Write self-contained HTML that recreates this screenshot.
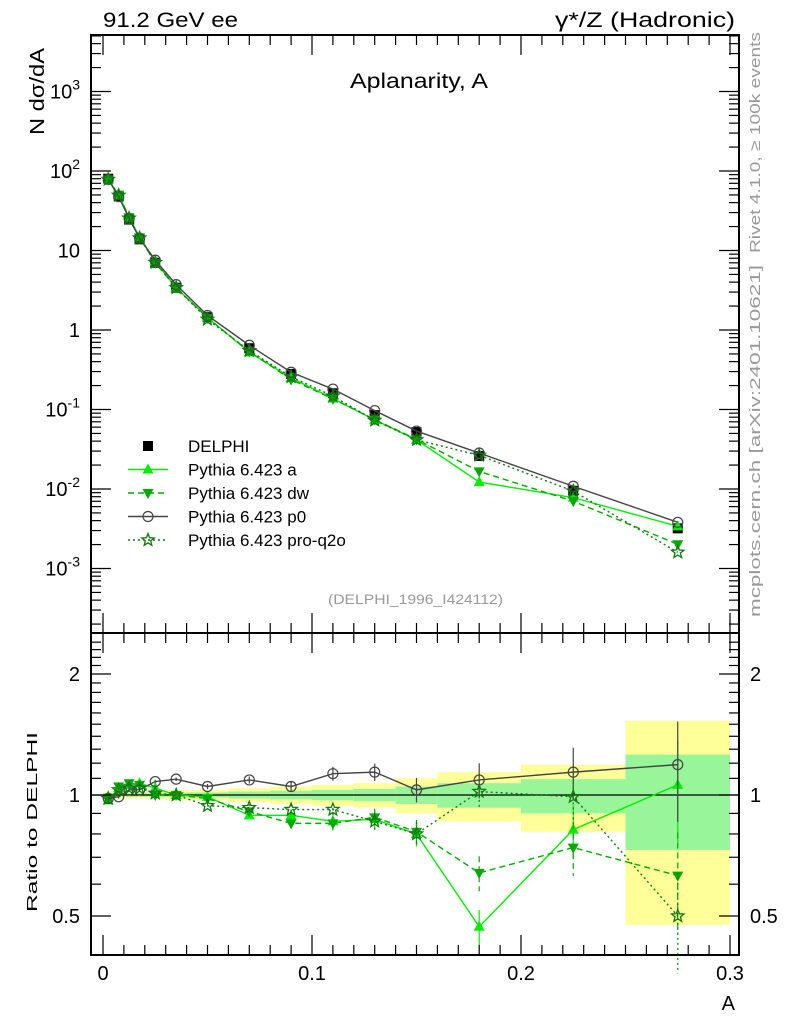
<!DOCTYPE html>
<html><head><meta charset="utf-8"><style>
body{margin:0;background:#fff;}
svg{display:block;font-family:"Liberation Sans",sans-serif;}
</style></head><body>
<svg id="chart" width="786" height="1024" viewBox="0 0 786 1024">
<g id="bands"></g><g id="grid"></g><g id="series"></g><g id="axes"></g>
<text x="103" y="27" font-size="21" textLength="135" lengthAdjust="spacingAndGlyphs">91.2 GeV ee</text>
<text x="555" y="27" font-size="21" textLength="180" lengthAdjust="spacingAndGlyphs">γ*/Z (Hadronic)</text>
<text x="350" y="88" font-size="21" textLength="138" lengthAdjust="spacingAndGlyphs">Aplanarity, A</text>
<text transform="translate(44,135) rotate(-90)" font-size="20" textLength="87" lengthAdjust="spacingAndGlyphs">N  dσ/dA</text>
<text transform="translate(37,912) rotate(-90)" font-size="15" textLength="180" lengthAdjust="spacingAndGlyphs">Ratio to DELPHI</text>
<text x="735" y="1010" font-size="20" text-anchor="end">A</text>
<text transform="translate(760,253) rotate(-90)" font-size="15" fill="#999" textLength="221" lengthAdjust="spacingAndGlyphs">Rivet 4.1.0, ≥ 100k events</text>
<text transform="translate(760,617) rotate(-90)" font-size="15" fill="#999" textLength="352" lengthAdjust="spacingAndGlyphs">mcplots.cern.ch [arXiv:2401.10621]</text>
<text x="328" y="604" font-size="14" fill="#999" textLength="175" lengthAdjust="spacingAndGlyphs">(DELPHI_1996_I424112)</text>
<g id="legend"></g>
</svg>
<script>
const edges=[0,0.005,0.01,0.015,0.02,0.03,0.04,0.06,0.08,0.1,0.12,0.14,0.16,0.2,0.25,0.3];
const centers=[0.0025,0.0075,0.0125,0.0175,0.025,0.035,0.05,0.07,0.09,0.11,0.13,0.15,0.18,0.225,0.275];
const delphi=[80,48,24.5,13.8,7.0,3.4,1.45,0.59,0.28,0.16,0.085,0.052,0.026,0.0095,0.0032];
const ratioA=[0.97,1.04,1.06,1.07,1.04,1.0,0.99,0.89,0.89,0.86,0.87,0.80,0.47,0.82,1.06];
const ratioDW=[0.98,1.05,1.07,1.06,1.0,1.0,0.98,0.91,0.85,0.85,0.88,0.81,0.64,0.74,0.63];
const ratioP0=[0.98,0.99,1.03,1.03,1.08,1.095,1.05,1.09,1.05,1.13,1.14,1.03,1.09,1.14,1.19];
const ratioQ2O=[0.98,1.03,1.04,1.04,1.01,1.0,0.94,0.93,0.92,0.92,0.86,0.80,1.02,0.99,0.50];
const mcErr=[0.01,0.01,0.01,0.01,0.01,0.01,0.015,0.02,0.03,0.04,0.05,0.07,0.1,0.15,0.28];
const bandYUp=[1.02,1.02,1.02,1.02,1.02,1.03,1.03,1.04,1.05,1.06,1.07,1.1,1.14,1.19,1.53];
const bandYDn=[0.98,0.98,0.98,0.98,0.98,0.97,0.97,0.96,0.95,0.94,0.93,0.9,0.86,0.81,0.475];
const bandGUp=[1.01,1.01,1.01,1.01,1.01,1.01,1.015,1.02,1.025,1.03,1.035,1.05,1.07,1.095,1.26];
const bandGDn=[0.99,0.99,0.99,0.99,0.99,0.99,0.985,0.98,0.975,0.97,0.965,0.95,0.93,0.9,0.73];
const mainTicks=["10^-3","10^-2","10^-1","1","10","10^2","10^3"];
const ratioTicks=[0.5,1,2];
const xTicks=[0,0.1,0.2,0.3];

const NS="http://www.w3.org/2000/svg";
const L=91,R=739,T=35,MB=633,RB=955;
const X=v=>103+v*2090;
const Y=v=>330-79.5*Math.log10(v);
const RY=v=>795-121*Math.log2(v);
function mk(tag,attrs,parent){const e=document.createElementNS(NS,tag);for(const k in attrs)e.setAttribute(k,attrs[k]);parent.appendChild(e);return e;}
const bands=document.getElementById('bands'),series=document.getElementById('series'),axes=document.getElementById('axes');

for(let i=0;i<centers.length;i++){
  const y=mk('rect',{x:X(edges[i]),y:RY(bandYUp[i]),width:X(edges[i+1])-X(edges[i]),height:RY(bandYDn[i])-RY(bandYUp[i]),fill:'#ffff99'},bands);
  
  
  const g=mk('rect',{x:X(edges[i]),y:RY(bandGUp[i]),width:X(edges[i+1])-X(edges[i]),height:RY(bandGDn[i])-RY(bandGUp[i]),fill:'#99f599'},bands);
  
  
}
const one=mk('line',{x1:L,x2:R,y1:RY(1),y2:RY(1),stroke:'#000','stroke-width':1.3},bands);



function marker(type,x,y,color,p){
  let e;
  if(type==='sq')e=mk('rect',{x:x-5,y:y-5,width:10,height:10,fill:'#000'},p);
  else if(type==='tri')e=mk('polygon',{points:`${x},${y-6} ${x-5.5},${y+4} ${x+5.5},${y+4}`,fill:color},p);
  else if(type==='itri')e=mk('polygon',{points:`${x},${y+6} ${x-5.5},${y-4} ${x+5.5},${y-4}`,fill:color},p);
  else if(type==='circ')e=mk('circle',{cx:x,cy:y,r:5,fill:'none',stroke:color,'stroke-width':1.2},p);
  else {let pts=[];for(let k=0;k<10;k++){const r=k%2?2.8:6.5,a=-Math.PI/2+k*Math.PI/5;pts.push((x+r*Math.cos(a)).toFixed(1)+','+(y+r*Math.sin(a)).toFixed(1));}
    e=mk('polygon',{points:pts.join(' '),fill:'none',stroke:color,'stroke-width':1.3},p);}
  return e;
}
const defs=[
 {name:'pythia-a',r:ratioA,c:'#00ee00',m:'tri',d:'',lab:'Pythia 6.423 a'},
 {name:'pythia-dw',r:ratioDW,c:'#00aa00',m:'itri',d:'6,4',lab:'Pythia 6.423 dw'},
 {name:'pythia-p0',r:ratioP0,c:'#444',m:'circ',d:'',lab:'Pythia 6.423 p0'},
 {name:'pythia-pro-q2o',r:ratioQ2O,c:'#117711',m:'star',d:'2,3',lab:'Pythia 6.423 pro-q2o'}
];
const dg=mk('g',{},series);


centers.forEach((c,i)=>{const m=marker('sq',X(c),Y(delphi[i]),'#000',dg);
  
  });
defs.forEach(s=>{
  const g=mk('g',{},series);
  
  
  const mp=centers.map((c,i)=>X(c)+','+Y(delphi[i]*s.r[i])).join(' ');
  mk('polyline',{points:mp,fill:'none',stroke:s.c,'stroke-width':1.4,'stroke-dasharray':s.d},g);
  const rp=centers.map((c,i)=>X(c)+','+RY(s.r[i])).join(' ');
  mk('polyline',{points:rp,fill:'none',stroke:s.c,'stroke-width':1.4,'stroke-dasharray':s.d},g);
  centers.forEach((c,i)=>{
    const x=X(c);
    const e=mk('line',{x1:x,x2:x,y1:RY(s.r[i]*(1+mcErr[i])),y2:RY(Math.max(0.3,s.r[i]*(1-mcErr[i]))),stroke:s.c,'stroke-width':1.2,'stroke-dasharray':s.d},g);
    
    
    const m1=marker(s.m,x,Y(delphi[i]*s.r[i]),s.c,g);
    
    
    const m2=marker(s.m,x,RY(s.r[i]),s.c,g);
    
    
  });
});
[[T,MB],[MB,RB]].forEach(([a,b])=>mk('rect',{x:L,y:a,width:R-L,height:b-a,fill:'none',stroke:'#000','stroke-width':2},axes));
for(let k=0;k<=30;k++){const v=k*0.01,x=X(v),big=k%10===0,h=big?20:10;
  [[T,1],[MB,-1],[MB,1],[RB,-1]].forEach(([y0,d])=>mk('line',{x1:x,x2:x,y1:y0,y2:y0+d*h,stroke:'#000','stroke-width':1.2},axes));}
xTicks.forEach(v=>{const t=mk('text',{x:X(v),y:980,'font-size':20,'text-anchor':'middle'},axes);t.textContent=v===0?'0':String(v);
  
  });
for(let d=-4;d<=3;d++){for(let m=1;m<10;m++){const v=m*Math.pow(10,d),y=Y(v);if(y<T||y>MB)continue;const h=m===1?20:10;
  mk('line',{x1:L,x2:L+h,y1:y,y2:y,stroke:'#000','stroke-width':1.2},axes);mk('line',{x1:R,x2:R-h,y1:y,y2:y,stroke:'#000','stroke-width':1.2},axes);}}
mainTicks.forEach((lab,i)=>{const y=Y(Math.pow(10,i-3));const t=mk('text',{x:80,y:y+7,'font-size':20,'text-anchor':'end'},axes);
  
  
  const p=lab.split('^');if(p.length===2){t.textContent=p[0];const s=mk('tspan',{dy:-9,'font-size':14},t);s.textContent=p[1];}else t.textContent=lab;});
for(let v=0.4;v<=2.41;v+=0.1){const y=RY(v);if(y<MB||y>RB)continue;const big=[0.5,1,2].some(q=>Math.abs(q-v)<1e-6),h=big?20:10;
  mk('line',{x1:L,x2:L+h,y1:y,y2:y,stroke:'#000','stroke-width':1.2},axes);mk('line',{x1:R,x2:R-h,y1:y,y2:y,stroke:'#000','stroke-width':1.2},axes);}
ratioTicks.forEach(v=>{[[80,'end'],[750,'start']].forEach(([x,a])=>{const t=mk('text',{x:x,y:RY(v)+7,'font-size':20,'text-anchor':a},axes);t.textContent=String(v);
  
  });});
const lg=document.getElementById('legend');
const ents=[{m:'sq',c:'#000',d:null,lab:'DELPHI'}].concat(defs);
ents.forEach((s,i)=>{const y=446+i*23.5;const g=mk('g',{},lg);
  
  
  if(s.name)mk('line',{x1:128,x2:168,y1:y,y2:y,stroke:s.c,'stroke-width':1.4,'stroke-dasharray':s.d||''},g);
  marker(s.m,148,y,s.c,g);
  const t=mk('text',{x:188,y:y+6,'font-size':17},g);t.textContent=s.lab;});
</script>
</body></html>
